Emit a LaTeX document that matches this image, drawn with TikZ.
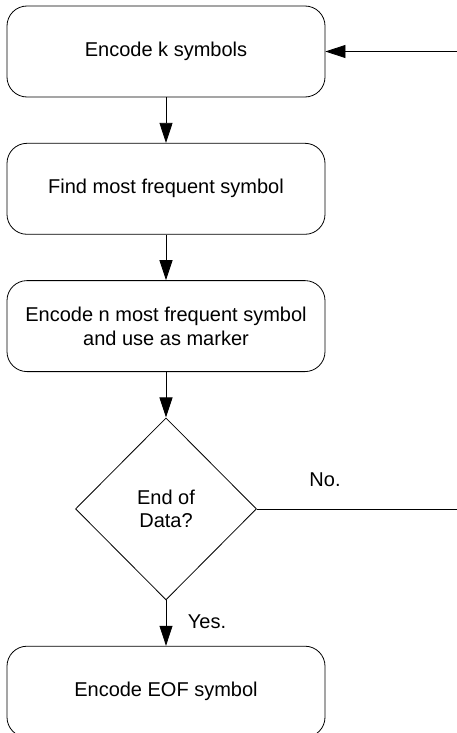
\documentclass[tikz,border=0pt]{standalone}
\usepackage{fontspec}
\setmainfont{Liberation Sans}
\usetikzlibrary{shapes.geometric, arrows.meta, positioning}

\begin{document}
\begin{tikzpicture}[
    x=1pt, y=-1pt,
    node distance=45.5pt,
    every node/.style={font=\fontsize{20pt}{23.5pt}\selectfont},
    process/.style={draw, rounded corners=20pt, minimum width=318pt, minimum height=91pt, align=center, line width=0.8pt},
    decision/.style={draw, diamond, minimum width=181pt, minimum height=182pt, inner sep=0pt, align=center, line width=0.8pt},
    flow/.style={-{Triangle[length=20pt, width=13pt]}, line width=0.8pt}
]
    \useasboundingbox (0,0) rectangle (456,733);

    \node[process] (enc) at (166,51.5) {Encode k symbols};
    \node[process, below=of enc] (find) {Find most frequent symbol};
    \node[process, below=of find] (mark) {Encode n most frequent symbol\\and use as marker};
    \node[decision, below=of mark] (eod) {End of\\Data?};
    \node[process, below=of eod] (eof) {Encode EOF symbol};

    % loop back runs just past the right edge
    \coordinate (back) at (480,0);

    \draw[flow] (enc) -- (find);
    \draw[flow] (find) -- (mark);
    \draw[flow] (mark) -- (eod);
    \draw[flow] (eod) -- (eof);
    \draw[flow] (eod.east) -- (eod.east -| back) -- (enc.east -| back) -- (enc.east);

    \node (no) at (325,480) {No.};
    \node (yes) at (207,622) {Yes.};
\end{tikzpicture}
\end{document}
